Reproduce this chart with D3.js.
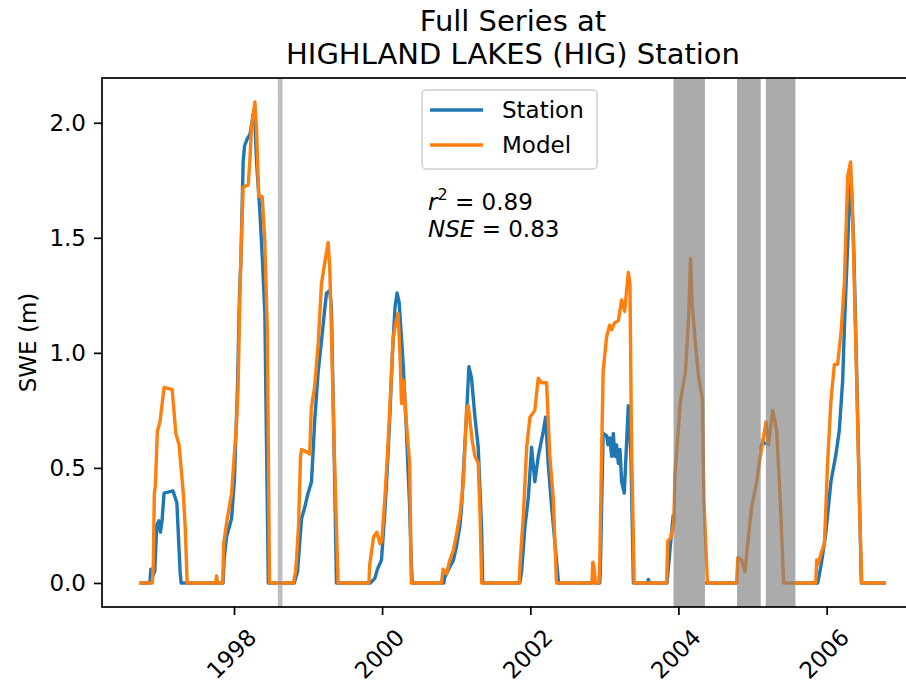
<!DOCTYPE html>
<html>
<head>
<meta charset="utf-8">
<script src="https://cdn.jsdelivr.net/npm/d3@7"></script>
<style>
  body { margin: 0; background: #fff; }
  text { font-family: "DejaVu Sans", sans-serif; fill: #000; }
</style>
</head>
<body>
<svg id="chart" width="906" height="685"></svg>
<script>
// station SWE (m), null = missing record
var station = [
  ["1996-09-21",0],["1996-11-12",0],["1996-11-17",0.06],["1996-11-22",0.02],["1996-12-06",0.05],["1996-12-16",0.25],
  ["1996-12-26",0.27],["1997-01-03",0.22],["1997-01-11",0.27],["1997-01-21",0.39],["1997-03-06",0.40],["1997-03-25",0.35],
  ["1997-04-10",0.05],["1997-04-15",0],
  ["1997-11-08",0],["1997-11-13",0.10],["1997-11-25",0.20],["1997-12-20",0.28],["1998-01-03",0.45],["1998-01-18",0.85],
  ["1998-01-28",1.25],["1998-02-04",1.40],["1998-02-15",1.83],["1998-02-22",1.90],["1998-03-07",1.93],["1998-03-21",1.95],
  ["1998-04-06",2.04],["1998-04-14",2.00],["1998-04-22",1.83],["1998-05-08",1.62],["1998-05-20",1.42],["1998-06-02",1.17],
  ["1998-06-19",0],
  ["1998-08-04",0],["1998-08-05",null],["1998-08-28",null],["1998-08-29",0],
  ["1998-10-25",0],["1998-11-10",0.05],["1998-11-30",0.28],["1998-12-16",0.33],["1998-12-29",0.38],["1999-01-18",0.44],
  ["1999-02-03",0.71],["1999-02-20",0.92],["1999-03-08",1.05],["1999-03-23",1.18],["1999-04-02",1.26],["1999-04-18",1.27],
  ["1999-04-26",1.20],["1999-05-09",0.60],["1999-05-21",0],
  ["1999-11-05",0],["1999-11-26",0.02],["1999-12-09",0.06],["1999-12-29",0.10],["2000-01-14",0.30],["2000-01-27",0.50],
  ["2000-02-08",0.72],["2000-02-21",1.00],["2000-03-05",1.20],["2000-03-15",1.26],["2000-03-25",1.22],["2000-04-03",1.10],
  ["2000-04-14",0.95],["2000-04-30",0.66],["2000-05-15",0.35],["2000-05-24",0.08],["2000-05-29",0],
  ["2000-11-01",0],["2000-11-03",0.02],["2000-11-30",0.07],["2000-12-18",0.10],["2001-01-02",0.16],["2001-01-19",0.25],
  ["2001-01-27",0.33],["2001-02-09",0.55],["2001-02-21",0.74],["2001-03-04",0.94],["2001-03-17",0.89],["2001-04-03",0.72],
  ["2001-04-19",0.59],["2001-05-06",0.23],["2001-05-11",0],
  ["2001-11-10",0],["2001-11-19",0.05],["2001-12-06",0.25],["2001-12-22",0.37],["2002-01-07",0.59],["2002-01-23",0.44],
  ["2002-02-09",0.55],["2002-03-06",0.66],["2002-03-17",0.72],["2002-03-30",0.52],["2002-04-15",0.34],["2002-05-18",0.02],
  ["2002-05-20",0],
  ["2002-11-01",0],["2002-11-08",0.04],["2002-11-14",0],["2002-12-09",0],["2002-12-12",0.05],["2002-12-20",0.40],
  ["2002-12-26",0.65],["2003-01-12",0.64],["2003-01-19",0.60],["2003-01-28",0.63],["2003-02-06",0.55],["2003-02-14",0.65],
  ["2003-02-22",0.55],["2003-03-02",0.60],["2003-03-11",0.52],["2003-03-19",0.58],["2003-03-27",0.44],["2003-04-09",0.39],
  ["2003-04-21",0.62],["2003-04-29",0.77],["2003-05-12",0.55],["2003-05-24",0],
  ["2003-08-01",0],["2003-08-06",0.015],["2003-08-11",0],
  ["2003-11-06",0],["2003-11-22",0.16],["2003-12-07",0.30],["2003-12-08",null],["2004-05-11",null],["2004-05-12",0],
  ["2004-10-15",0],["2004-10-16",null],["2005-02-09",null],["2005-02-10",0.58],["2005-02-20",0.62],["2005-03-05",0.60],
  ["2005-03-07",null],["2005-07-31",null],["2005-08-01",0],
  ["2005-11-18",0],["2005-12-05",0.08],["2005-12-27",0.21],["2006-01-22",0.44],["2006-02-14",0.55],["2006-03-04",0.66],
  ["2006-03-21",0.88],["2006-03-29",1.10],["2006-04-19",1.57],["2006-05-02",1.75],["2006-05-14",1.48],["2006-06-01",0.80],
  ["2006-06-21",0],["2006-10-19",0]
];

// model SWE (m)
var model = [
  ["1996-09-21",0],["1996-11-24",0],["1996-11-29",0.08],["1996-12-04",0.39],["1996-12-09",0.42],["1996-12-19",0.66],
  ["1997-01-01",0.70],["1997-01-21",0.85],["1997-03-02",0.84],["1997-03-20",0.65],["1997-04-05",0.60],["1997-04-25",0.40],
  ["1997-05-05",0.25],["1997-05-15",0],
  ["1997-10-02",0],["1997-10-07",0.03],["1997-10-12",0],["1997-11-06",0],["1997-11-11",0.17],["1997-11-25",0.26],
  ["1997-12-20",0.39],["1998-01-13",0.69],["1998-01-21",0.85],["1998-01-31",1.30],["1998-02-05",1.45],["1998-02-15",1.72],
  ["1998-03-12",1.73],["1998-03-21",1.85],["1998-03-28",1.98],["1998-04-14",2.09],["1998-04-22",1.97],["1998-05-03",1.68],
  ["1998-05-20",1.68],["1998-06-01",1.50],["1998-06-14",1.10],["1998-06-25",0],
  ["1998-10-21",0],["1998-10-31",0.05],["1998-11-05",0.10],["1998-11-15",0.25],["1998-11-25",0.55],["1998-11-30",0.58],
  ["1998-12-24",0.57],["1999-01-09",0.56],["1999-01-17",0.76],["1999-02-02",0.85],["1999-02-20",1.04],["1999-03-08",1.30],
  ["1999-03-24",1.39],["1999-04-10",1.48],["1999-04-18",1.37],["1999-04-26",1.10],["1999-05-11",0.55],["1999-05-29",0],
  ["1999-10-28",0],["1999-11-01",0.08],["1999-11-12",0.15],["1999-11-20",0.20],["1999-12-06",0.22],["1999-12-22",0.17],
  ["1999-12-30",0.18],["2000-01-14",0.36],["2000-01-27",0.55],["2000-02-08",0.76],["2000-02-25",1.07],["2000-03-07",1.12],
  ["2000-03-20",1.17],["2000-03-29",1.00],["2000-04-06",0.78],["2000-04-17",0.88],["2000-04-30",0.69],["2000-05-16",0.52],
  ["2000-05-24",0],
  ["2000-10-20",0],["2000-10-28",0.06],["2000-11-14",0.04],["2000-11-30",0.10],["2000-12-17",0.14],["2001-01-02",0.21],
  ["2001-01-19",0.30],["2001-02-05",0.44],["2001-02-13",0.60],["2001-02-21",0.76],["2001-02-28",0.77],["2001-03-09",0.71],
  ["2001-03-20",0.62],["2001-04-03",0.55],["2001-04-19",0.52],["2001-04-28",0.30],["2001-05-06",0],
  ["2001-11-07",0],["2001-11-11",0.08],["2001-11-28",0.30],["2001-12-14",0.59],["2001-12-30",0.72],["2002-01-23",0.75],
  ["2002-02-09",0.89],["2002-02-25",0.87],["2002-03-22",0.87],["2002-04-07",0.55],["2002-04-24",0.37],["2002-05-10",0],
  ["2002-11-01",0],["2002-11-05",0.09],["2002-11-09",0.08],["2002-11-13",0.05],["2002-11-17",0],["2002-12-05",0],
  ["2002-12-09",0.08],["2002-12-17",0.50],["2002-12-26",0.92],["2003-01-12",1.07],["2003-01-27",1.12],["2003-02-06",1.10],
  ["2003-02-20",1.13],["2003-03-11",1.14],["2003-03-27",1.23],["2003-04-11",1.18],["2003-04-29",1.35],["2003-05-07",1.30],
  ["2003-05-15",0.60],["2003-05-28",0],
  ["2003-11-04",0],["2003-11-09",0.18],["2003-11-26",0.20],["2003-12-09",0.26],["2003-12-15",0.47],["2004-01-11",0.79],
  ["2004-02-05",0.92],["2004-02-21",1.17],["2004-03-01",1.41],["2004-03-09",1.21],["2004-03-25",1.04],["2004-04-09",0.90],
  ["2004-04-28",0.80],["2004-05-06",0.36],["2004-05-23",0],
  ["2004-10-14",0],["2004-10-20",0.11],["2004-11-07",0.10],["2004-11-24",0.05],["2004-12-10",0.19],["2004-12-27",0.33],
  ["2005-01-21",0.44],["2005-02-06",0.54],["2005-02-23",0.63],["2005-03-08",0.70],["2005-03-20",0.60],["2005-04-10",0.75],
  ["2005-04-30",0.66],["2005-05-17",0.36],["2005-06-03",0],
  ["2005-11-08",0],["2005-11-13",0.10],["2005-11-20",0.08],["2005-12-05",0.13],["2005-12-21",0.17],["2006-01-05",0.51],
  ["2006-01-22",0.79],["2006-02-08",0.95],["2006-02-24",0.95],["2006-03-14",1.10],["2006-03-29",1.30],["2006-04-15",1.77],
  ["2006-04-29",1.83],["2006-05-09",1.60],["2006-05-27",0.95],["2006-06-13",0.30],["2006-06-23",0],["2006-10-19",0]
];

// periods with missing station data (shaded)
var gaps = [
  ["1998-08-05","1998-08-28"],
  ["2003-12-08","2004-05-11"],
  ["2004-10-16","2005-02-10"],
  ["2005-03-07","2005-07-31"]
];

var yTicks = [0, 0.5, 1.0, 1.5, 2.0];
var xTickYears = [1998, 2000, 2002, 2004, 2006];
var seriesNames = ["Station", "Model"];
var stats = { r2: "0.89", nse: "0.83" };

var parse = d3.timeParse("%Y-%m-%d");
var stData = station.map(function(d) { return { date: parse(d[0]), v: d[1] }; });
var moData = model.map(function(d) { return { date: parse(d[0]), v: d[1] }; });

var MARGINS = { top: 78, left: 102, bottom: 607, right: 923 },
  svg = d3.select("#chart");

// matplotlib style 5% padding
var tExt = d3.extent(stData.concat(moData), function(d) { return d.date; }),
  span = tExt[1] - tExt[0],
  xScale = d3.scaleTime()
    .domain([new Date(+tExt[0] - span * 0.05), new Date(+tExt[1] + span * 0.05)])
    .range([MARGINS.left, MARGINS.right]);

var vMax = d3.max(stData.concat(moData), function(d) { return d.v; }),
  yScale = d3.scaleLinear()
    .domain([-vMax * 0.05, vMax * 1.05])
    .range([MARGINS.bottom, MARGINS.top]);

svg.append("defs").append("clipPath").attr("id", "clip")
  .append("rect")
  .attr("x", MARGINS.left).attr("y", MARGINS.top)
  .attr("width", MARGINS.right - MARGINS.left)
  .attr("height", MARGINS.bottom - MARGINS.top);

var plot = svg.append("g").attr("clip-path", "url(#clip)");

var line = d3.line()
  .defined(function(d) { return d.v !== null; })
  .x(function(d) { return xScale(d.date); })
  .y(function(d) { return yScale(d.v); });

plot.append("path")
  .datum(stData)
  .attr("fill", "none")
  .attr("stroke", "#1f77b4")
  .attr("stroke-width", 3.4)
  .attr("stroke-linejoin", "round")
  .attr("d", line);

plot.append("path")
  .datum(moData)
  .attr("fill", "none")
  .attr("stroke", "#ff7f0e")
  .attr("stroke-width", 3.4)
  .attr("stroke-linejoin", "round")
  .attr("d", line);

plot.selectAll("rect.gap")
  .data(gaps)
  .enter().append("rect")
  .attr("class", "gap")
  .attr("x", function(d) { return xScale(parse(d[0])); })
  .attr("width", function(d) { return xScale(parse(d[1])) - xScale(parse(d[0])); })
  .attr("y", MARGINS.top)
  .attr("height", MARGINS.bottom - MARGINS.top)
  .attr("fill", "#808080")
  .attr("fill-opacity", function(d, i) { return i === 0 ? 0.5 : 0.66; });

// axes
var yAxis = d3.axisLeft(yScale)
  .tickValues(yTicks)
  .tickFormat(d3.format(".1f"))
  .tickSize(8)
  .tickPadding(8);

var gy = svg.append("g")
  .attr("transform", "translate(" + MARGINS.left + ",0)")
  .call(yAxis);
gy.select(".domain").remove();
gy.selectAll("line").attr("stroke", "#000").attr("stroke-width", 1.7);
gy.selectAll("text").style("font-size", "23px").style("font-family", "DejaVu Sans");

var xAxis = d3.axisBottom(xScale)
  .tickValues(xTickYears.map(function(y) { return new Date(y, 0, 1); }))
  .tickFormat(d3.timeFormat("%Y"))
  .tickSize(8);

var gx = svg.append("g")
  .attr("transform", "translate(0," + MARGINS.bottom + ")")
  .call(xAxis);
gx.select(".domain").remove();
gx.selectAll("line").attr("stroke", "#000").attr("stroke-width", 1.7);
gx.selectAll("text")
  .style("font-size", "23px")
  .style("font-family", "DejaVu Sans")
  .attr("text-anchor", "middle")
  .attr("dominant-baseline", "central")
  .attr("y", 0)
  .attr("dy", 0)
  .attr("transform", "translate(-3,47) rotate(-45)");

svg.append("rect")
  .attr("x", MARGINS.left)
  .attr("y", MARGINS.top)
  .attr("width", MARGINS.right - MARGINS.left)
  .attr("height", MARGINS.bottom - MARGINS.top)
  .attr("fill", "none")
  .attr("stroke", "#000")
  .attr("stroke-width", 1.7);

// labels
svg.append("text")
  .attr("transform", "translate(28," + ((MARGINS.top + MARGINS.bottom) / 2) + ") rotate(-90)")
  .attr("text-anchor", "middle")
  .attr("dominant-baseline", "central")
  .style("font-size", "23px")
  .text("SWE (m)");

var title = svg.append("text")
  .attr("text-anchor", "middle")
  .style("font-size", "29px");
title.append("tspan").attr("x", 513).attr("y", 31).text("Full Series at");
title.append("tspan").attr("x", 513).attr("y", 64).text("HIGHLAND LAKES (HIG) Station");

// legend
var legend = svg.append("g");
legend.append("rect")
  .attr("x", 422).attr("y", 90)
  .attr("width", 175).attr("height", 79)
  .attr("rx", 4)
  .attr("fill", "#fff").attr("fill-opacity", 0.8)
  .attr("stroke", "#d0d0d0").attr("stroke-width", 1.5);

var legColor = d3.scaleOrdinal().domain(seriesNames).range(["#1f77b4", "#ff7f0e"]);
seriesNames.forEach(function(name, i) {
  var ly = 110 + i * 35;
  legend.append("line")
    .attr("x1", 430).attr("x2", 483)
    .attr("y1", ly).attr("y2", ly)
    .attr("stroke", legColor(name))
    .attr("stroke-width", 3.4);
  legend.append("text")
    .attr("x", 502).attr("y", ly)
    .attr("dy", "0.35em")
    .style("font-size", "23px")
    .text(name);
});

// fit statistics
var st = svg.append("text").style("font-size", "23px");
st.append("tspan").attr("x", 428).attr("y", 210).style("font-style", "italic").text("r");
st.append("tspan").attr("dy", -10).style("font-size", "16px").text("2");
st.append("tspan").attr("dy", 10).text(" = " + stats.r2);
var st2 = svg.append("text").style("font-size", "23px");
st2.append("tspan").attr("x", 428).attr("y", 237).style("font-style", "italic").text("NSE");
st2.append("tspan").text(" = " + stats.nse);
</script>
</body>
</html>
